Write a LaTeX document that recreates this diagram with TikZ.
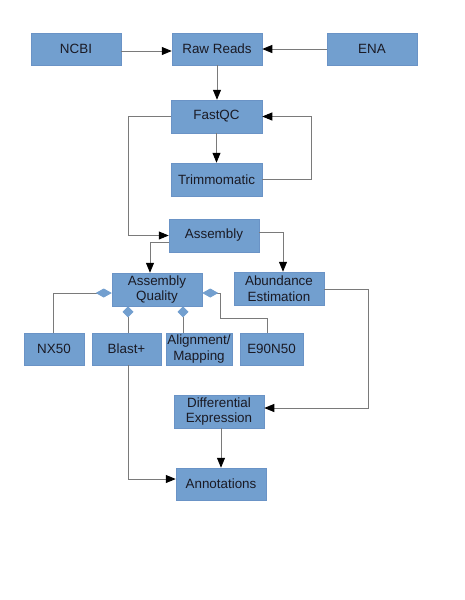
\documentclass[tikz,border=0pt]{standalone}
\usepackage{fontspec}
\setmainfont{Liberation Sans}
\usetikzlibrary{arrows.meta}
\definecolor{boxblue}{HTML}{729FCF}
\definecolor{boxedge}{HTML}{6A93C6}
\definecolor{linegray}{HTML}{7A7A7A}
\definecolor{txt}{HTML}{1A1A24}
\begin{document}
\begin{tikzpicture}[x=1pt,y=-1pt,
  box/.style={draw=boxedge,line width=0.5pt,fill=boxblue,inner sep=0pt,
    minimum width=90pt,minimum height=33pt,align=center,text=txt,
    font=\fontsize{13.4}{15.5}\selectfont},
  conn/.style={draw=linegray,line width=0.9pt},
  arr/.style={conn,-{Triangle[length=10pt,width=8pt,black]}},
  dia/.style={conn,{Diamond[length=16pt,width=9pt,color=boxblue,fill=boxblue]}-},
  diab/.style={conn,{Diamond[length=11pt,width=11pt,color=boxblue,fill=boxblue]}-}]
\useasboundingbox (0,0) rectangle (464,600);
\fill[white] (0,0) rectangle (464,600);
% nodes
\node[box,minimum height=32pt] (ncbi) at (76,49) {NCBI};
\node[box,minimum height=32pt] (rr) at (217,49) {Raw Reads};
\node[box,minimum height=32pt] (ena) at (372,49) {ENA};
\node[box,minimum width=91pt] (fqc) at (216.5,116.5) {FastQC};
\node[box,minimum width=91pt] (trim) at (216.5,179.5) {Trimmomatic};
\node[box] (asm) at (214,235.5) {Assembly};
\node[box] (aq) at (157,289.5) {Assembly\\Quality};
\node[box] (abund) at (279,288.5) {Abundance\\Estimation};
\node[box,minimum width=60pt,minimum height=32pt] (nx) at (54,349) {NX50};
\node[box,minimum width=69pt,minimum height=32pt] (blast) at (126.5,349) {Blast+};
\node[box,minimum width=66pt,minimum height=32pt] (align) at (199,349) {Alignment/\\Mapping};
\node[box,minimum width=63pt,minimum height=32pt] (e90) at (271.5,349) {E90N50};
\node[box] (diff) at (219,411.5) {Differential\\Expression};
\node[box,minimum height=32pt] (annot) at (221,484) {Annotations};
% helper coordinates
\coordinate (cR) at (311,0);
\coordinate (cL) at (128,0);
\coordinate (cA) at (150,0);
\coordinate (cB) at (283,0);
\coordinate (cD) at (368,0);
\coordinate (cN) at (53,0);
\coordinate (cE) at (220,0);
\coordinate (cE2) at (267,318);
\coordinate (cQ) at (183,0);
% connectors
\draw[arr] (ncbi.east |- 0,51) -- (rr.west |- 0,51);
\draw[arr] (ena.west) -- (rr.east);
\draw[arr] (rr.south) -- (rr.south |- fqc.north);
\draw[arr] (fqc.south) -- (trim.north);
\draw[arr] (trim.east) -| (cR |- fqc.east) -- (fqc.east);
\draw[arr] (fqc.west) -| (cL |- asm.west) -- (asm.west);
\draw[arr] (asm.west |- 0,242) -| (cA |- aq.north);
\draw[arr] (asm.east |- 0,232) -| (cB |- abund.north);
\draw[arr] (abund.east |- 0,289) -| (cD |- 0,408) -- (diff.east |- 0,408);
\draw[arr] (diff.south -| 221,0) -- (annot.north);
\draw[dia] (aq.west |- 0,293) -| (cN |- nx.north);
\draw[diab] (cL |- aq.south) -- (cL |- blast.north);
\draw[diab] (cQ |- aq.south) -- (cQ |- align.north);
\draw[dia] (aq.east |- 0,293) -| (cE |- cE2) -| (cE2 |- e90.north);
\draw[arr] (cL |- blast.south) |- (annot.west |- 0,479);
\end{tikzpicture}
\end{document}
